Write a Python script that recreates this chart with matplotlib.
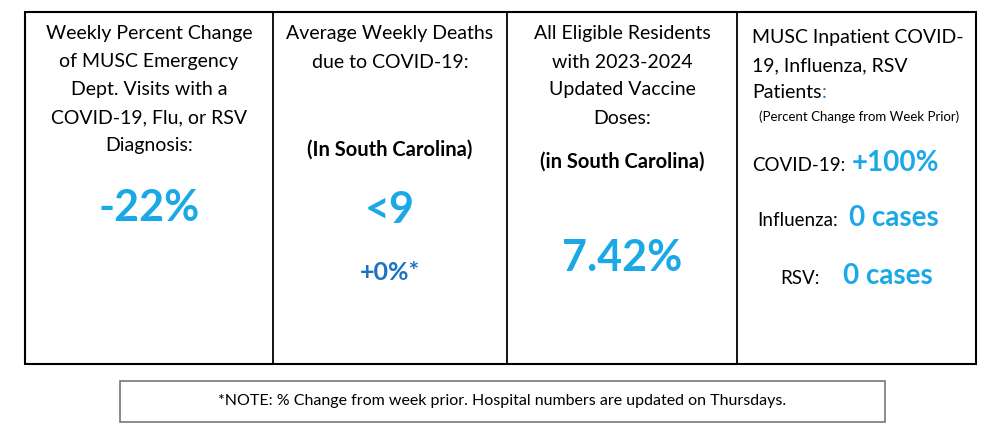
import matplotlib.pyplot as plt
from matplotlib.patches import Rectangle

plt.rcParams['font.family'] = ['Lato', 'DejaVu Sans']

W, H = 1000, 434
BLUE = '#1aa9e6'
DARK_BLUE = '#1a73c2'

# panel texts and values
headings = [
    ["Weekly Percent Change", "of MUSC Emergency", "Dept. Visits with a",
     "COVID-19, Flu, or RSV", "Diagnosis:"],
    ["Average Weekly Deaths", "due to COVID-19:"],
    ["All Eligible Residents", "with 2023-2024", "Updated Vaccine", "Doses:"],
]
sub_labels = ["", "(In South Carolina)", "(in South Carolina)"]
main_values = ["-22%", "<9", "7.42%"]
death_change = "+0%*"

inpatient_title = ["MUSC Inpatient COVID-", "19, Influenza, RSV", "Patients"]
inpatient_labels = ["COVID-19:", "Influenza:", "RSV:"]
inpatient_values = ["+100%", "0 cases", "0 cases"]
note = "*NOTE: % Change from week prior. Hospital numbers are updated on Thursdays."

fig = plt.figure(figsize=(W / 100, H / 100), dpi=100)


def px(x, y):
    return x / W, 1 - y / H


def txt(x, y, s, **kw):
    fx, fy = px(x, y)
    return fig.text(fx, fy, s, **kw)


def box(x0, y0, x1, y1, color='black', lw=1.5):
    fx0, fy1 = px(x0, y1)
    fig.patches.append(Rectangle((fx0, fy1), (x1 - x0) / W, (y1 - y0) / H,
                                 transform=fig.transFigure, fill=False,
                                 edgecolor=color, linewidth=lw))


box(25, 12, 976, 364)
for xd in [273, 507, 737]:
    fig.lines.append(plt.Line2D([xd / W, xd / W], [1 - 12 / H, 1 - 364 / H],
                                transform=fig.transFigure, color='black', linewidth=1.3))
box(120, 381, 885, 422, color='#777777', lw=1.2)

centers = [149, 390, 622]
head_size = 14
line_step = 28
for cx, lines in zip(centers, headings):
    for i, line in enumerate(lines):
        txt(cx, 34 + i * line_step, line, ha='center', va='center', fontsize=head_size)

txt(390, 150, sub_labels[1], ha='center', va='center', fontsize=14.5, fontweight='bold')
txt(622, 162, sub_labels[2], ha='center', va='center', fontsize=14.5, fontweight='bold')

txt(149, 208, main_values[0], ha='center', va='center', fontsize=31, fontweight='bold', color=BLUE)
txt(390, 210, main_values[1], ha='center', va='center', fontsize=31, fontweight='bold', color=BLUE)
txt(622, 258, main_values[2], ha='center', va='center', fontsize=31, fontweight='bold', color=BLUE)
txt(390, 273, death_change, ha='center', va='center', fontsize=18, fontweight='bold', color=DARK_BLUE)

# inpatient panel
for i, line in enumerate(inpatient_title):
    t = txt(752, 38 + i * 27.5, line, ha='left', va='baseline' if False else 'center', fontsize=head_size)
fig.canvas.draw()
ext = t.get_window_extent()
# blue colon right after "Patients"
fig.text(ext.x1 / W, 1 - (38 + 2 * 27.5) / H, ":", ha='left', va='center',
         fontsize=head_size, color=DARK_BLUE)
txt(759, 117, "(Percent Change from Week Prior)", ha='left', va='center', fontsize=9.5)

label_x = [752, 757, 780]
value_x = [852, 849, 843]
rows_y = [165, 220, 278]
for lx, vx, ry, lab, val in zip(label_x, value_x, rows_y, inpatient_labels, inpatient_values):
    txt(lx, ry, lab, ha='left', va='center', fontsize=13.5)
    txt(vx, ry - 2, val, ha='left', va='center', fontsize=20, fontweight='bold', color=BLUE)

txt(502, 401, note, ha='center', va='center', fontsize=11.5)

fig.savefig('out.png', dpi=100, facecolor='white')
